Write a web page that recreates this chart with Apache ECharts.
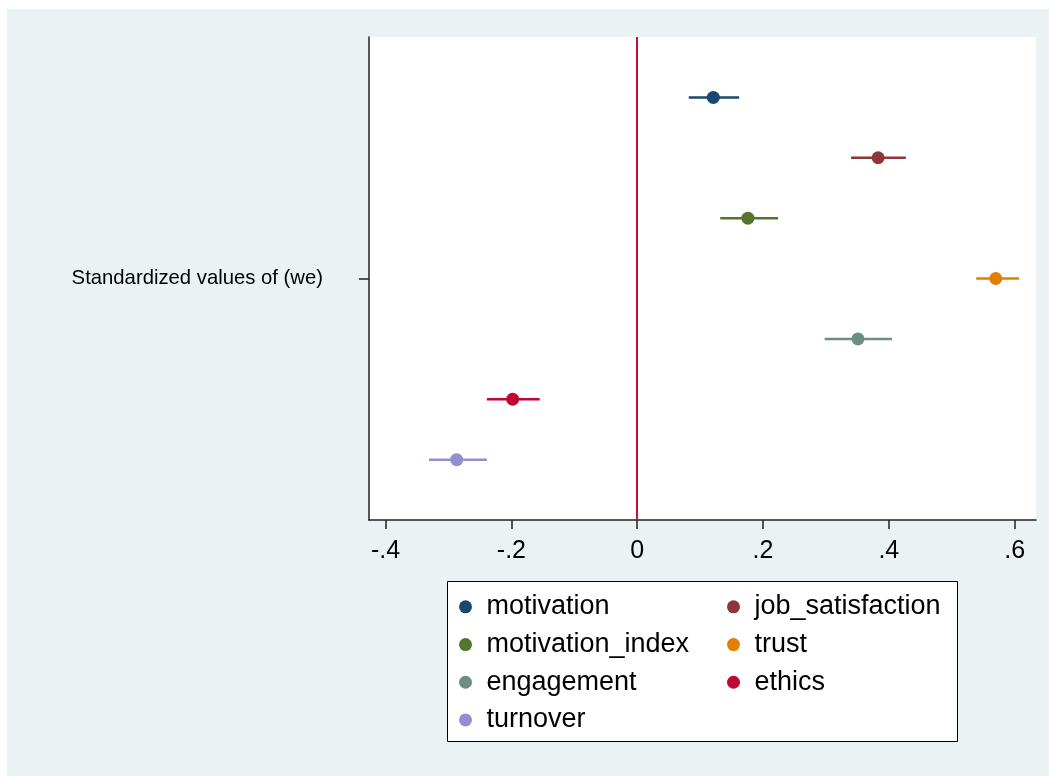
<!DOCTYPE html>
<html>
<head>
<meta charset="utf-8">
<script src="https://cdn.jsdelivr.net/npm/echarts@6/dist/echarts.min.js"></script>
<style>
  html, body { margin: 0; padding: 0; background: #ffffff; }
  #chart { width: 1049px; height: 776px; }
</style>
</head>
<body>
<div id="chart"></div>
<script>
// Standardized coefficients with confidence intervals
const names = ['motivation', 'job_satisfaction', 'motivation_index', 'trust', 'engagement', 'ethics', 'turnover'];
const estimates = [0.121, 0.383, 0.176, 0.570, 0.351, -0.198, -0.287];
const ciLow = [0.082, 0.340, 0.132, 0.539, 0.298, -0.239, -0.331];
const ciHigh = [0.162, 0.427, 0.224, 0.607, 0.405, -0.155, -0.239];
const rowPos = [7, 6, 5, 4, 3, 2, 1];
const colors = ['#1a476f', '#90353b', '#55752f', '#e37e00', '#6e8e84', '#c10534', '#938dd2'];
const xTicks = [-0.4, -0.2, 0, 0.2, 0.4, 0.6];
const yTickValue = 4;
const yLabel = 'Standardized values of (we)';
const legendLeft = ['motivation', 'motivation_index', 'engagement', 'turnover'];
const legendRight = ['job_satisfaction', 'trust', 'ethics'];

const FONT = '"Liberation Sans", Arial, Helvetica, sans-serif';

function fmtTick(v) {
  const r = Math.round(v * 10) / 10;
  if (r === 0) return '0';
  const s = Math.abs(r).toFixed(1).replace(/^0/, '');
  return (r < 0 ? '-' : '') + s;
}

const chart = echarts.init(document.getElementById('chart'), null, { renderer: 'canvas' });

const coefSeries = names.map((n, i) => ({
  name: n,
  type: 'custom',
  itemStyle: { color: colors[i] },
  data: [[ciLow[i], ciHigh[i], estimates[i], rowPos[i]]],
  encode: { x: [0, 1, 2], y: 3 },
  z: 5,
  renderItem: function (params, api) {
    const y = api.value(3);
    const a = api.coord([api.value(0), y]);
    const b = api.coord([api.value(1), y]);
    const c = api.coord([api.value(2), y]);
    return {
      type: 'group',
      children: [
        { type: 'line', shape: { x1: a[0], y1: a[1], x2: b[0], y2: b[1] },
          style: { stroke: colors[i], lineWidth: 2.5 } },
        { type: 'circle', shape: { cx: c[0], cy: c[1], r: 6.5 },
          style: { fill: colors[i] } }
      ]
    };
  }
}));

// reference line at zero
coefSeries.push({
  name: 'zero',
  type: 'line',
  data: [],
  silent: true,
  z: 3,
  markLine: {
    silent: true,
    symbol: ['none', 'none'],
    label: { show: false },
    lineStyle: { color: '#c8102e', width: 2, type: 'solid' },
    data: [{ xAxis: 0 }]
  }
});

const legendCommon = {
  orient: 'vertical',
  padding: 0,
  itemGap: 0,
  itemWidth: 32,
  itemHeight: 13,
  icon: 'circle',
  selectedMode: false,
  textStyle: { fontFamily: FONT, fontSize: 27, color: '#000', lineHeight: 37.7 }
};

chart.setOption({
  backgroundColor: '#ffffff',
  animation: false,
  color: colors,
  graphic: [
    { type: 'rect', z: -100, silent: true,
      shape: { x: 7, y: 9, width: 1042, height: 767 },
      style: { fill: '#eaf2f3' } },
    { type: 'rect', z: -50, silent: true,
      shape: { x: 447.5, y: 581.5, width: 510, height: 160 },
      style: { fill: '#ffffff', stroke: '#000000', lineWidth: 1 } }
  ],
  grid: {
    left: 369, right: 13, top: 37, bottom: 256,
    show: true, backgroundColor: '#ffffff', borderWidth: 0
  },
  xAxis: {
    type: 'value',
    min: -0.4264,
    max: 0.634,
    splitLine: { show: false },
    axisLine: { show: true, onZero: false, lineStyle: { color: '#222', width: 1.5 } },
    axisTick: { show: true, length: 9, customValues: xTicks, lineStyle: { color: '#222', width: 1.5 } },
    axisLabel: {
      customValues: xTicks,
      formatter: fmtTick,
      margin: 19,
      fontFamily: FONT, fontSize: 25, color: '#000'
    }
  },
  yAxis: {
    type: 'value',
    min: 0,
    max: 8,
    splitLine: { show: false },
    axisLine: { show: true, onZero: false, lineStyle: { color: '#222', width: 1.5 } },
    axisTick: { show: true, length: 10, customValues: [yTickValue], lineStyle: { color: '#222', width: 1.5 } },
    axisLabel: {
      customValues: [yTickValue],
      formatter: function () { return yLabel; },
      margin: 46,
      padding: [4, 0, 0, 0],
      fontFamily: FONT, fontSize: 20.3, color: '#000'
    }
  },
  legend: [
    Object.assign({}, legendCommon, { left: 459, top: 588, data: legendLeft }),
    Object.assign({}, legendCommon, { left: 727, top: 588, data: legendRight })
  ],
  series: coefSeries
});
</script>
</body>
</html>
